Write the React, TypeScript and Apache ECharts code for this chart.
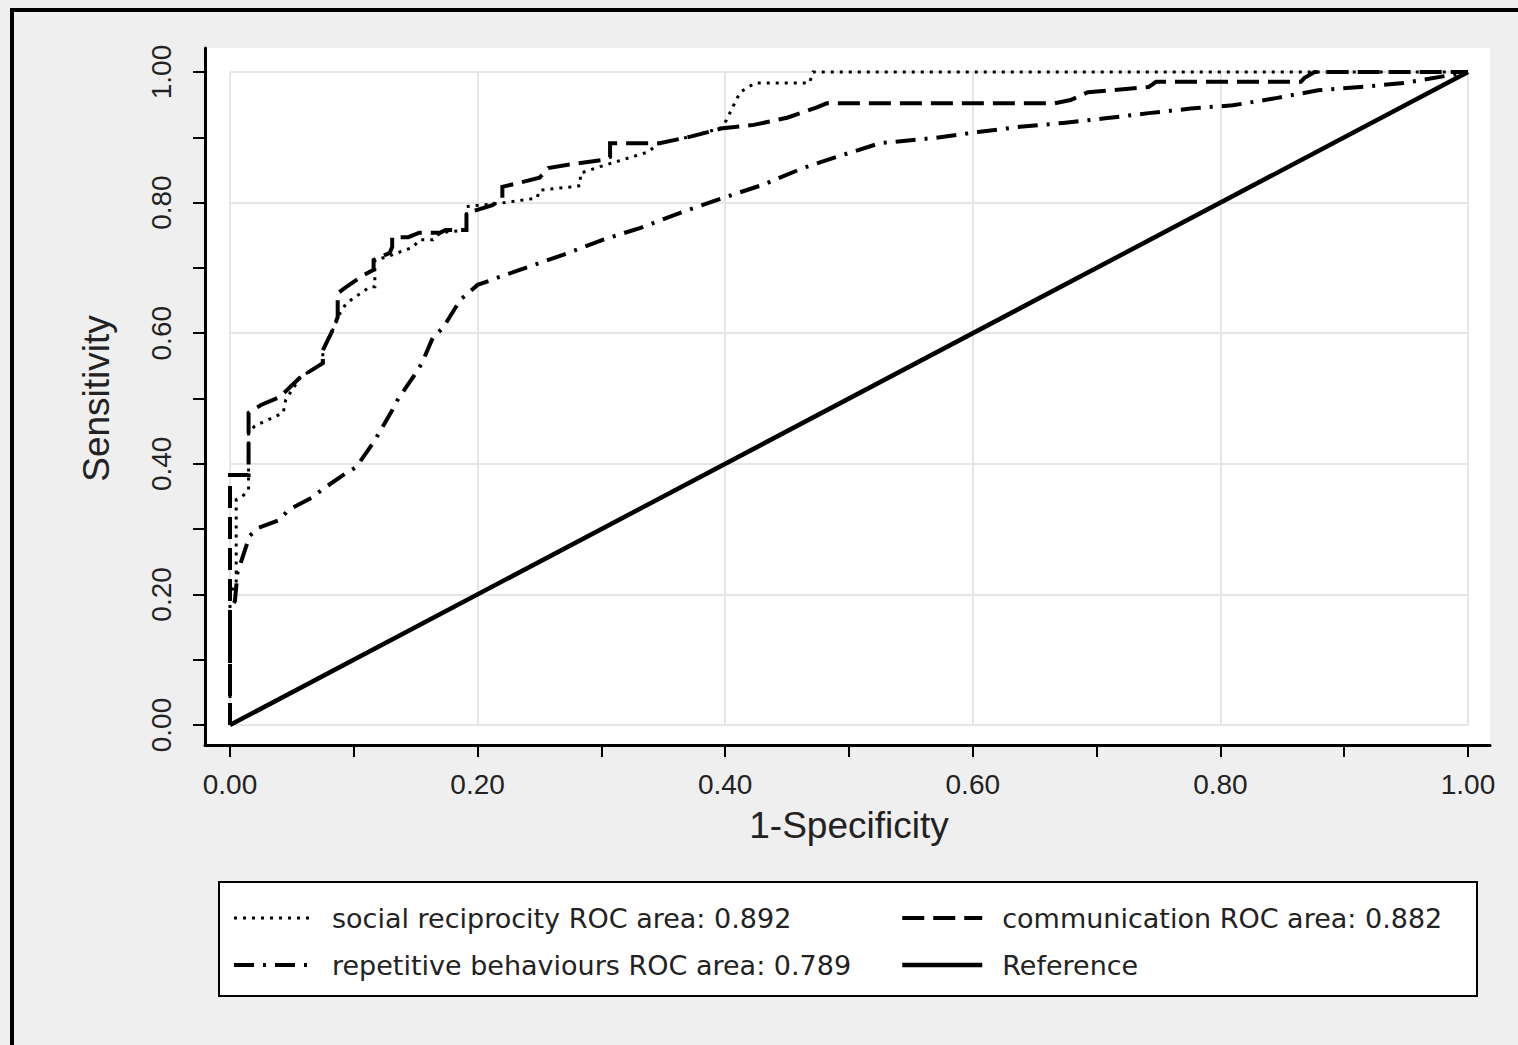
import React, { useEffect, useRef } from "react";
import * as echarts from "echarts";

// ---- data (x = 1-Specificity, y = Sensitivity) ----
const seriesNames = [
  "social reciprocity ROC area: 0.892",
  "communication ROC area: 0.882",
  "repetitive behaviours ROC area: 0.789",
  "Reference",
];

const socialReciprocity: number[][] = [
  [0, 0], [0, 0.2], [0.005, 0.22], [0.005, 0.345], [0.01, 0.35], [0.015, 0.36],
  [0.015, 0.447], [0.02, 0.458], [0.043, 0.478], [0.045, 0.498], [0.057, 0.533],
  [0.075, 0.554], [0.075, 0.574], [0.083, 0.605], [0.089, 0.631], [0.094, 0.646],
  [0.113, 0.671], [0.117, 0.671], [0.117, 0.712], [0.127, 0.717], [0.148, 0.732],
  [0.153, 0.743], [0.164, 0.743], [0.17, 0.754], [0.191, 0.758], [0.191, 0.794],
  [0.218, 0.799], [0.248, 0.807], [0.25, 0.819], [0.275, 0.824], [0.283, 0.826],
  [0.283, 0.845], [0.299, 0.855], [0.337, 0.877], [0.347, 0.891], [0.372, 0.901],
  [0.396, 0.914], [0.401, 0.926], [0.406, 0.946], [0.412, 0.969], [0.424, 0.983],
  [0.468, 0.983], [0.471, 1.0], [1, 1],
];

const communication: number[][] = [
  [0, 0], [0, 0.383], [0.015, 0.383], [0.015, 0.478], [0.025, 0.49], [0.04, 0.502],
  [0.057, 0.533], [0.075, 0.554], [0.075, 0.574], [0.083, 0.605], [0.087, 0.625],
  [0.087, 0.661], [0.094, 0.671], [0.108, 0.689], [0.116, 0.697], [0.116, 0.712],
  [0.129, 0.723], [0.131, 0.732], [0.131, 0.747], [0.144, 0.747], [0.153, 0.754],
  [0.17, 0.754], [0.174, 0.758], [0.191, 0.758], [0.191, 0.784], [0.212, 0.796],
  [0.22, 0.807], [0.22, 0.824], [0.25, 0.838], [0.257, 0.853], [0.273, 0.858],
  [0.3, 0.865], [0.307, 0.87], [0.307, 0.891], [0.347, 0.891], [0.372, 0.901],
  [0.398, 0.914], [0.423, 0.919], [0.45, 0.93], [0.474, 0.946], [0.482, 0.952],
  [0.666, 0.952], [0.679, 0.957], [0.693, 0.969], [0.742, 0.977], [0.748, 0.985],
  [0.865, 0.985], [0.868, 0.991], [0.876, 1.0], [1, 1],
];

const repetitiveBehaviours: number[][] = [
  [0, 0], [0, 0.176], [0.004, 0.19], [0.006, 0.233], [0.014, 0.279], [0.016, 0.29],
  [0.023, 0.302], [0.04, 0.314], [0.047, 0.329], [0.067, 0.349], [0.074, 0.36],
  [0.094, 0.386], [0.102, 0.395], [0.116, 0.433], [0.121, 0.449], [0.131, 0.482],
  [0.136, 0.5], [0.148, 0.533], [0.155, 0.554], [0.164, 0.594], [0.172, 0.608],
  [0.186, 0.651], [0.2, 0.674], [0.234, 0.697], [0.269, 0.72], [0.301, 0.743],
  [0.331, 0.761], [0.366, 0.786], [0.398, 0.807], [0.43, 0.827], [0.463, 0.853],
  [0.495, 0.873], [0.525, 0.891], [0.569, 0.899], [0.604, 0.908], [0.638, 0.916],
  [0.673, 0.922], [0.707, 0.929], [0.742, 0.937], [0.776, 0.944], [0.81, 0.949],
  [0.845, 0.96], [0.879, 0.972], [0.913, 0.977], [0.948, 0.983], [0.982, 0.994],
  [1, 1],
];

const referenceLine: number[][] = [[0, 0], [1, 1]];

const tickInterval = 0.2;

const FONT = "'Liberation Sans', Arial, sans-serif";
const LEGEND_FONT = "'DejaVu Sans', sans-serif";
const TEXT = "#222";

// line styles per series (index matches seriesNames)
const lineWidths = [3, 4, 4, 4.5];
const dashTypes: any[] = [[3, 6], [22, 9], [20, 9, 3, 9], "solid"];

export default function App() {
  const ref = useRef<HTMLDivElement>(null);

  useEffect(() => {
    if (!ref.current) return;
    const chart = echarts.init(ref.current, null, { renderer: "svg" });

    const lineSeries = (i: number, data: number[][]) => ({
      name: seriesNames[i],
      type: "line",
      xAxisIndex: 1,
      yAxisIndex: 1,
      data,
      symbol: "none",
      showSymbol: false,
      clip: false,
      silent: true,
      lineStyle: { color: "#000", width: lineWidths[i], type: dashTypes[i], cap: "butt", join: "miter" },
      itemStyle: { color: "#000" },
    });

    const legendItem = (i: number) => ({
      name: seriesNames[i],
      lineStyle: { width: lineWidths[i], type: dashTypes[i], color: "#000" },
      itemStyle: { opacity: 0 },
    });

    const legendBase = {
      orient: "vertical",
      top: 903,
      padding: 0,
      itemWidth: 80,
      itemHeight: 14,
      itemGap: 17,
      selectedMode: false,
      itemStyle: { opacity: 0, borderWidth: 0 },
    };

    chart.setOption({
      animation: false,
      backgroundColor: "#efefef",
      grid: [
        { left: 205, right: 28, top: 48, bottom: 300, show: true, backgroundColor: "#fff", borderWidth: 0 },
        { left: 230, right: 50, top: 72, bottom: 320 },
      ],
      xAxis: [
        {
          gridIndex: 0, type: "value", min: -0.0202, max: 1.0178,
          axisLine: { show: true, onZero: false, lineStyle: { color: "#000", width: 3 } },
          axisTick: { show: false }, axisLabel: { show: false }, splitLine: { show: false },
        },
        {
          gridIndex: 1, type: "value", min: 0, max: 1, interval: tickInterval, offset: 20,
          axisLine: { show: false, onZero: false },
          axisTick: { show: true, length: 12, lineStyle: { color: "#000", width: 2 } },
          minorTick: { show: true, splitNumber: 2, length: 12, lineStyle: { color: "#000", width: 2 } },
          axisLabel: {
            margin: 25, fontSize: 28, color: TEXT, fontFamily: FONT,
            formatter: (v: number) => v.toFixed(2),
          },
          splitLine: { show: true, lineStyle: { color: "#e6e6e6", width: 2 } },
          name: "1-Specificity", nameLocation: "middle", nameGap: 62,
          nameTextStyle: { fontSize: 37, color: TEXT, fontFamily: FONT },
        },
      ],
      yAxis: [
        {
          gridIndex: 0, type: "value", min: -0.0306, max: 1.0368,
          axisLine: { show: true, onZero: false, lineStyle: { color: "#000", width: 3 } },
          axisTick: { show: false }, axisLabel: { show: false }, splitLine: { show: false },
        },
        {
          gridIndex: 1, type: "value", min: 0, max: 1, interval: tickInterval, offset: 25,
          axisLine: { show: false, onZero: false },
          axisTick: { show: true, length: 12, lineStyle: { color: "#000", width: 2 } },
          minorTick: { show: true, splitNumber: 2, length: 12, lineStyle: { color: "#000", width: 2 } },
          axisLabel: {
            margin: 30, fontSize: 28, color: TEXT, fontFamily: FONT, rotate: 90,
            formatter: (v: number) => v.toFixed(2),
          },
          splitLine: { show: true, lineStyle: { color: "#e6e6e6", width: 2 } },
          name: "Sensitivity", nameLocation: "middle", nameGap: 90, nameRotate: 90,
          nameTextStyle: { fontSize: 37, color: TEXT, fontFamily: FONT },
        },
      ],
      legend: [
        {
          ...legendBase,
          data: [legendItem(0), legendItem(2)],
          left: 232,
          textStyle: { fontSize: 27, fontFamily: LEGEND_FONT, color: TEXT, lineHeight: 30, padding: [0, 0, 0, 13] },
        },
        {
          ...legendBase,
          data: [legendItem(1), legendItem(3)],
          left: 900,
          textStyle: { fontSize: 27, fontFamily: LEGEND_FONT, color: TEXT, lineHeight: 30, padding: [0, 0, 0, 15] },
        },
      ],
      graphic: [
        { type: "rect", shape: { x: 10, y: 8, width: 1508, height: 4 }, style: { fill: "#000" } },
        { type: "rect", shape: { x: 10, y: 8, width: 4, height: 1037 }, style: { fill: "#000" } },
        {
          type: "rect", z: 0,
          shape: { x: 219, y: 882, width: 1258, height: 114 },
          style: { fill: "#fff", stroke: "#000", lineWidth: 2 },
        },
      ],
      series: [
        lineSeries(3, referenceLine),
        lineSeries(2, repetitiveBehaviours),
        lineSeries(1, communication),
        lineSeries(0, socialReciprocity),
      ],
    });

    return () => chart.dispose();
  }, []);

  return (
    <div
      ref={ref}
      style={{ position: "fixed", left: 0, top: 0, width: 1518, height: 1045 }}
    />
  );
}
